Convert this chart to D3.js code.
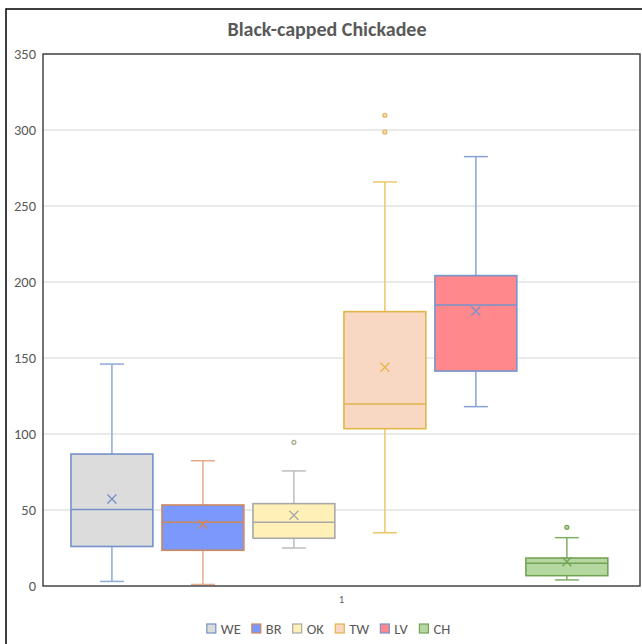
<!DOCTYPE html>
<html><head><meta charset="utf-8">
<script src="https://cdn.jsdelivr.net/npm/d3@7"></script>
<style>body{margin:0;background:#fff}svg{display:block}</style>
</head><body>
<script>
const title = "Black-capped Chickadee";
const categories = ["1"];
const seriesNames = ["WE","BR","OK","TW","LV","CH"];
const mins    = [3,   1,   25,  35,  118, 4];
const q1s     = [26,  23.5,31.4,103.5,141.4,6.8];
const medians = [50.3,41.9,41.9,119.7,184.9,14.9];
const q3s     = [86.8,53.3,54.2,180.5,204.2,18.4];
const maxs    = [146, 82.4,75.7,265.8,282.5,31.8];
const means   = [57.2,40.6,46.5,143.9,180.9,16];
const outliers = [[],[],[94.5],[298.7,309.7],[],[38.6]];
const yTicks = [0,50,100,150,200,250,300,350];

const fills   = ["#dcdcdc","#7b98fc","#fff0b8","#f8d8c2","#ff888c","#b6d7a0"];
const strokes = ["#7391c8","#d0875c","#a8a8a8","#e2b54a","#7694cc","#72a455"];
const whiskerStrokes = ["#8eaad8","#e3ad8c","#bdbdbd","#ecc766","#86a2d4","#80ae64"];

const W = 642, H = 644;
const plot = {l:43, t:54, r:640, b:586};
const svg = d3.select("body").append("svg").attr("width",W).attr("height",H);
const font = "Carlito, 'Liberation Sans', Arial, sans-serif";
const txt = "#595959";

svg.append("rect").attr("x",6).attr("y",9).attr("width",800).attr("height",800)
  .attr("fill","none").attr("stroke","#000").attr("stroke-width",1.5);

svg.append("text").attr("x",327).attr("y",36).attr("text-anchor","middle")
  .attr("font-family",font).attr("font-weight","bold").attr("font-size",20)
  .attr("fill",txt).text(title);

const y = d3.scaleLinear().domain([0,350]).range([plot.b, plot.t]);
const xCat = d3.scaleBand().domain(categories).range([plot.l, plot.r]).paddingInner(0).paddingOuter(0.03);
const xs = d3.scaleBand().domain(seriesNames).range([xCat(categories[0]), xCat(categories[0])+xCat.bandwidth()])
  .paddingInner(0.1).paddingOuter(0.145).align(0.42);

svg.append("g").selectAll("line").data(yTicks.filter(d=>d>0)).join("line")
  .attr("x1",plot.l).attr("x2",plot.r).attr("y1",d=>y(d)).attr("y2",d=>y(d))
  .attr("stroke","#e3e3e3").attr("stroke-width",1.3);

const yAxis = d3.axisLeft(y).tickValues(yTicks).tickSize(0).tickPadding(7);
const ga = svg.append("g").attr("transform",`translate(${plot.l},0)`).call(yAxis);
ga.select(".domain").remove();
ga.selectAll("text").attr("font-family",font).attr("font-size",14.5).attr("fill",txt);

const xAxis = d3.axisBottom(xCat).tickSize(0).tickPadding(10);
const gx = svg.append("g").attr("transform",`translate(0,${plot.b})`).call(xAxis);
gx.select(".domain").remove();
gx.selectAll("text").attr("font-family",font).attr("font-size",10).attr("fill",txt);

seriesNames.forEach((s,i)=>{
  const g = svg.append("g");
  const x0 = xs(s), bw = xs.bandwidth(), cx = x0 + bw/2, cap = 12;
  g.append("line").attr("x1",cx).attr("x2",cx).attr("y1",y(maxs[i])).attr("y2",y(q3s[i]))
    .attr("stroke",whiskerStrokes[i]).attr("stroke-width",1.5);
  g.append("line").attr("x1",cx).attr("x2",cx).attr("y1",y(q1s[i])).attr("y2",y(mins[i]))
    .attr("stroke",whiskerStrokes[i]).attr("stroke-width",1.5);
  [maxs[i],mins[i]].forEach(v=>{
    g.append("line").attr("x1",cx-cap).attr("x2",cx+cap).attr("y1",y(v)).attr("y2",y(v))
      .attr("stroke",whiskerStrokes[i]).attr("stroke-width",1.5);
  });
  g.append("rect").attr("x",x0).attr("y",y(q3s[i])).attr("width",bw).attr("height",y(q1s[i])-y(q3s[i]))
    .attr("fill",fills[i]).attr("stroke",strokes[i]).attr("stroke-width",1.6);
  g.append("line").attr("x1",x0).attr("x2",x0+bw).attr("y1",y(medians[i])).attr("y2",y(medians[i]))
    .attr("stroke",strokes[i]).attr("stroke-width",1.5);
  const my = y(means[i]), m = 4.5;
  g.append("path").attr("d",`M${cx-m},${my-m}L${cx+m},${my+m}M${cx-m},${my+m}L${cx+m},${my-m}`)
    .attr("stroke",strokes[i]).attr("stroke-width",1.3).attr("fill","none");
  g.selectAll("circle").data(outliers[i]).join("circle")
    .attr("cx",cx).attr("cy",d=>y(d)).attr("r",2)
    .attr("fill",fills[i]).attr("stroke",strokes[i]).attr("stroke-width",1.2);
});

svg.append("rect").attr("x",plot.l).attr("y",plot.t).attr("width",plot.r-plot.l).attr("height",plot.b-plot.t)
  .attr("fill","none").attr("stroke","#444").attr("stroke-width",1.5);

const leg = svg.append("g").attr("transform","translate(0,629)");
const items = leg.selectAll("g").data(seriesNames).join("g");
items.append("rect").attr("x",0).attr("y",-5).attr("width",9).attr("height",9)
  .attr("fill",(d,i)=>fills[i]).attr("stroke",(d,i)=>strokes[i]).attr("stroke-width",1.2);
items.append("text").attr("x",14).attr("y",0).attr("dy","0.36em")
  .attr("font-family",font).attr("font-size",14.5).attr("fill",txt).text(d=>d);
let widths = [];
items.each(function(){ widths.push(this.getBBox().width); });
const gap = 11;
const total = d3.sum(widths) + gap*(widths.length-1);
let pos = 328.5 - total/2;
items.attr("transform",(d,i)=>{ const p = pos; pos += widths[i]+gap; return `translate(${p},0)`; });
</script>
</body></html>
